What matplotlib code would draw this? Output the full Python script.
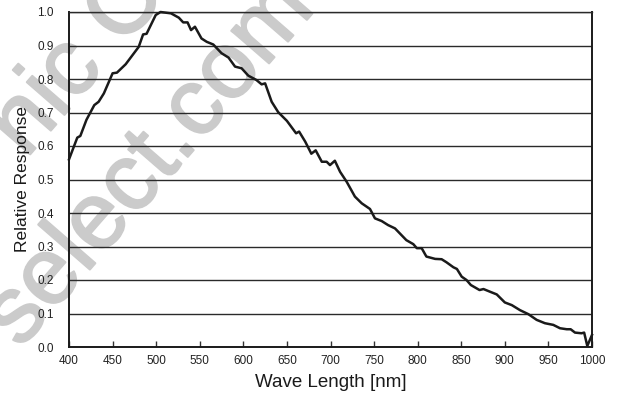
import matplotlib
matplotlib.use("Agg")
import matplotlib.pyplot as plt
import matplotlib.patheffects as pe

plt.rcParams['font.family'] = ['Liberation Sans', 'DejaVu Sans']

wavelength = [400, 409.5, 413, 420, 429, 434, 440, 450, 455, 465, 480, 485, 489,
              499.5, 505, 517, 526, 531, 536, 540, 544.5, 552, 558, 565.5, 575,
              583, 590.5, 598, 605.7, 615, 621, 625, 632.5, 640, 650, 660.5, 664,
              671, 678, 683, 690, 695.6, 699.4, 705, 711, 718.6, 728, 735.8, 745.3,
              751, 758.7, 766, 774, 787, 795, 799, 804.6, 810, 820, 827.5, 833,
              841, 845, 850.5, 856, 861, 871, 875.5, 883, 890.7, 900, 908, 917.4,
              927, 936.5, 946, 955.6, 963.3, 971, 975.5, 980.5, 988, 991, 994.6,
              1000]
response = [0.560, 0.625, 0.630, 0.678, 0.722, 0.732, 0.757, 0.817, 0.819, 0.844,
            0.896, 0.933, 0.935, 0.991, 1.000, 0.996, 0.983, 0.969, 0.969, 0.946,
            0.956, 0.921, 0.911, 0.903, 0.877, 0.864, 0.837, 0.832, 0.810, 0.797,
            0.784, 0.787, 0.732, 0.701, 0.675, 0.638, 0.643, 0.613, 0.577, 0.587,
            0.553, 0.553, 0.543, 0.556, 0.523, 0.493, 0.449, 0.429, 0.412, 0.384,
            0.376, 0.364, 0.354, 0.319, 0.307, 0.295, 0.295, 0.270, 0.263, 0.262,
            0.253, 0.238, 0.233, 0.210, 0.200, 0.185, 0.170, 0.173, 0.165, 0.157,
            0.133, 0.125, 0.110, 0.098, 0.081, 0.071, 0.066, 0.056, 0.053, 0.053,
            0.043, 0.041, 0.043, 0.003, 0.036]

x_ticks = [400, 450, 500, 550, 600, 650, 700, 750, 800, 850, 900, 950, 1000]
y_ticks = [0.0, 0.1, 0.2, 0.3, 0.4, 0.5, 0.6, 0.7, 0.8, 0.9, 1.0]

fig = plt.figure(figsize=(6.21, 3.97), dpi=100)
ax = fig.add_axes([69/621, 50/397, 523/621, 335/397])
ax.set_facecolor('none')

# faint watermark behind everything
wm = '#cbcbcb'
thick = [pe.withStroke(linewidth=1.5, foreground=wm)]
fig.text(150/621, 1 - 163/397, 'select.com', rotation=49, fontsize=68,
         color=wm, ha='center', va='center', zorder=-1, path_effects=thick)
fig.text(78/621, 1 - 62/397, 'nic C', rotation=49, fontsize=68,
         color=wm, ha='center', va='center', zorder=-1, path_effects=thick)

for y in y_ticks:
    ax.axhline(y, color='#2a2a2a', lw=1.0, zorder=1)

ax.plot(wavelength, response, color='#1a1a1a', lw=1.8, zorder=3, clip_on=False)

ax.set_xlim(400, 1000)
ax.set_ylim(0, 1.0)
ax.set_xticks(x_ticks)
ax.set_xticklabels([str(v) for v in x_ticks])
ax.set_yticks(y_ticks)
ax.set_yticklabels([f"{v:.1f}" for v in y_ticks])

ax.tick_params(axis='x', direction='in', length=4, width=1, color='#333333',
               labelsize=8.5, pad=6, labelcolor='#222222')
ax.tick_params(axis='y', length=0, labelsize=8.5, pad=11, labelcolor='#222222')

for s in ['left', 'bottom', 'right']:
    ax.spines[s].set_linewidth(1.4)
    ax.spines[s].set_color('#1a1a1a')
ax.spines['top'].set_linewidth(1.0)
ax.spines['top'].set_color('#2a2a2a')

ax.set_xlabel('Wave Length [nm]', fontsize=13.5, color='#1a1a1a', labelpad=5)
ax.set_ylabel('Relative Response', fontsize=12.5, color='#1a1a1a', labelpad=5)

fig.savefig('out.png', dpi=100)
